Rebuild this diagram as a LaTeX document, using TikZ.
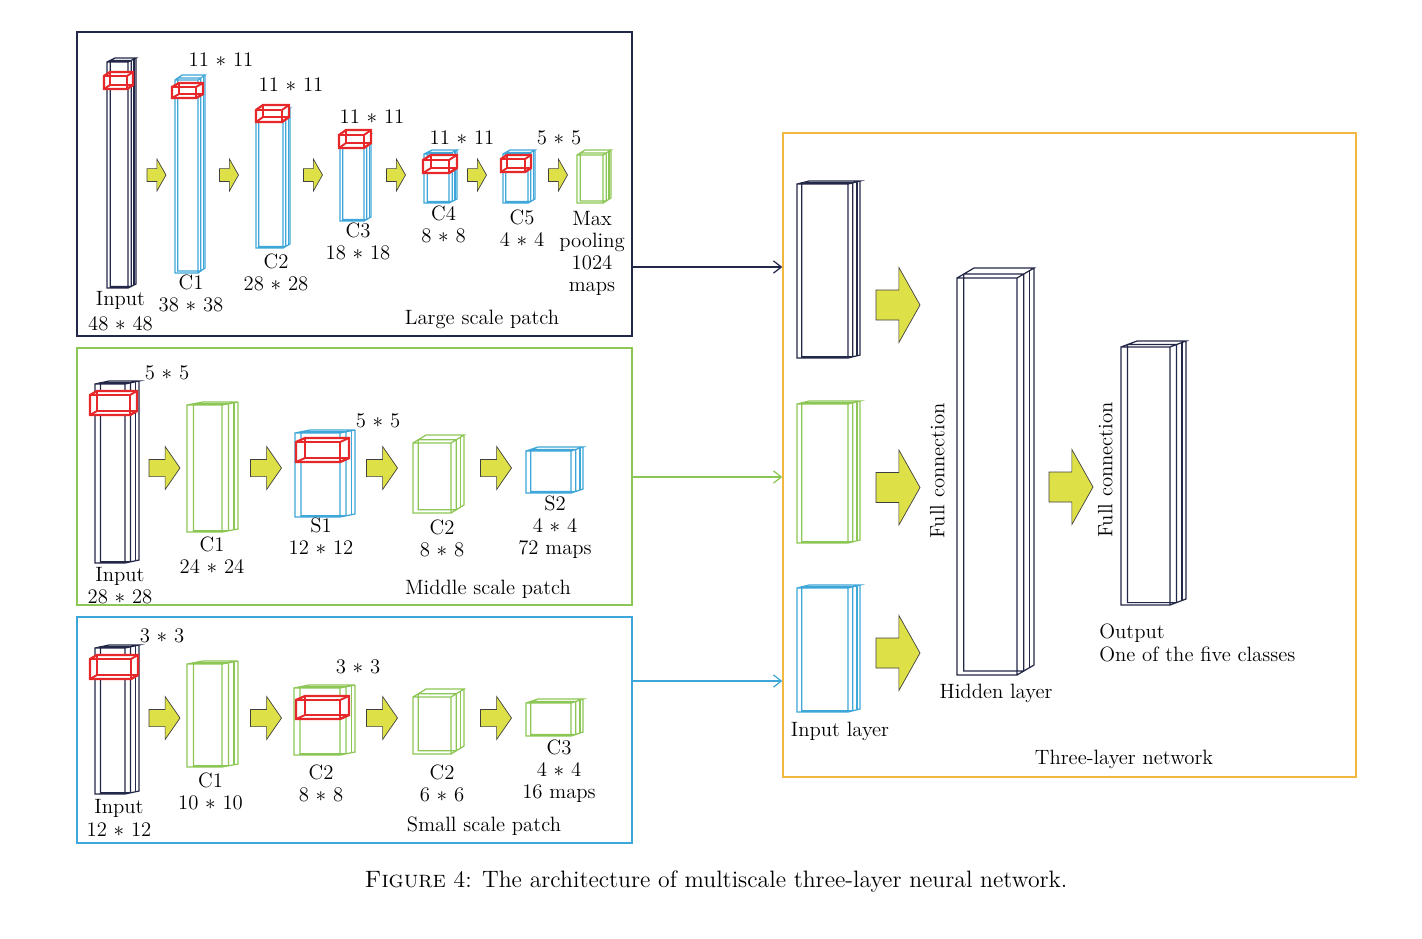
\documentclass[tikz,border=0pt]{standalone}
\usetikzlibrary{arrows.meta}
\definecolor{navy}{RGB}{36,40,72}
\definecolor{skyblue}{RGB}{62,166,216}
\definecolor{leaf}{RGB}{140,198,84}
\definecolor{kred}{RGB}{230,40,42}
\definecolor{ylw}{RGB}{222,224,72}
\definecolor{amber}{RGB}{240,184,64}
\newcommand\pxu{0.02cm}
% feature map: x, y, width, height, depth x, depth y, colour
\newcommand\fmap[7]{%
  \draw[#7, line width=0.7pt] (#1,#2) rectangle ++(#3,#4)
    (#1+0.4*#5,#2-0.4*#6) rectangle ++(#3,#4)
    (#1,#2) -- ++(#5,-#6) -- ++(#3,0) -- (#1+#3,#2)
    (#1+#3+#5,#2-#6) -- ++(0,#4) -- (#1+#3,#2+#4);
  \draw[#7, line width=0.7pt] (#1+#3+0.75*#5,#2-0.75*#6) -- ++(0,#4);
}
% kernel: x, y, width, height, depth x, depth y
\newcommand\kernel[6]{%
  \filldraw[kred, fill=white, line width=1.3pt] (#1,#2) -- ++(#5,-#6) -- ++(#3,0)
    -- ++(0,#4) -- ++(-#5,#6) -- ++(-#3,0) -- cycle;
  \draw[kred, line width=1.1pt] (#1,#2) rectangle ++(#3,#4)
    (#1+#5,#2-#6) rectangle ++(#3,#4)
    (#1+#3,#2) -- ++(#5,-#6)
    (#1,#2+#4) -- ++(#5,-#6)
    (#1+#3,#2+#4) -- ++(#5,-#6);
}
% block arrow: centre x, centre y, length, height
\newcommand\blockarrow[4]{%
  \filldraw[fill=ylw, draw=black!75, line width=0.4pt]
    (#1-#3/2,#2-0.2*#4) -- (#1+0.02*#3,#2-0.2*#4) -- (#1+0.02*#3,#2-#4/2)
    -- (#1+#3/2,#2) -- (#1+0.02*#3,#2+#4/2) -- (#1+0.02*#3,#2+0.2*#4)
    -- (#1-#3/2,#2+0.2*#4) -- cycle;
}
\tikzset{
  lbl/.style={text height=6.5pt, text depth=1.5pt},
  stack/.style={align=center, font={\fontsize{11.8}{#1}\selectfont}},
  stack/.default=12.5pt,
  frame/.style={draw, line width=0.8pt, minimum width=555*\pxu},
  link/.style={line width=0.7pt, -{Straight Barb[length=4.5pt,width=7pt]}}
}
\begin{document}
\begin{tikzpicture}[x=\pxu, y=-\pxu, every node/.style={font=\fontsize{11.8}{12}\selectfont, inner sep=0pt}]
  \useasboundingbox (0,0) rectangle (1422,938);
  % panels
  \node [frame, draw=navy, minimum height=304*\pxu] (large) at (354.5,184) {};
  \node [frame, draw=leaf, minimum height=257*\pxu] (middle) at (354.5,476.5) {};
  \node [frame, draw=skyblue, minimum height=226*\pxu] (small) at (354.5,730) {};
  \node [frame, draw=amber, minimum width=573*\pxu, minimum height=644*\pxu] (net) at (1069.5,455) {};

  % large scale patch
  \fmap{107}{62}{21}{226}{8}{4}{navy}
  \kernel{104}{76}{23}{13}{6}{4}
  \fmap{175}{80}{23}{193}{7}{5}{skyblue}
  \kernel{172}{87}{24}{11}{7}{4}
  \fmap{256}{112}{27}{136}{7}{4}{skyblue}
  \kernel{256}{110}{26}{12}{7}{5}
  \fmap{340}{138}{24}{83}{7}{4}{skyblue}
  \kernel{339}{135}{25}{13}{7}{5}
  \fmap{424}{154}{25}{49}{8}{4}{skyblue}
  \kernel{423}{160}{26}{13}{8}{5}
  \fmap{503}{154}{25}{49}{7}{4}{skyblue}
  \kernel{501}{159}{24}{13}{6}{4}
  \fmap{577}{155}{26}{48}{8}{5}{leaf}
  \foreach \ax in {156.5,229,313,396,477,558}
    {\blockarrow{\ax}{175}{19}{32}}

  \node [stack=14.2pt] (in1) at (120.5,311.5) {Input\\48 $\ast$ 48};
  \node [lbl] (k11) at (221,62) {11 $\ast$ 11};
  \node [stack] (c11) at (191,293.5) {C1\\38 $\ast$ 38};
  \node [lbl] (k12) at (291,87) {11 $\ast$ 11};
  \node [stack] (c12) at (276,272) {C2\\28 $\ast$ 28};
  \node [lbl] (k13) at (372,119) {11 $\ast$ 11};
  \node [stack] (c13) at (358,241) {C3\\18 $\ast$ 18};
  \node [lbl] (k14) at (462,140) {11 $\ast$ 11};
  \node [stack] (c14) at (443.5,224) {C4\\8 $\ast$ 8};
  \node [lbl] (k15) at (559,140) {5 $\ast$ 5};
  \node [stack] (c15) at (522,228.5) {C5\\4 $\ast$ 4};
  \node [stack] (mp) at (592,253) {Max\\pooling\\1024\\maps};
  \node [lbl] (t1) at (482,320) {Large scale patch};

  % middle scale patch
  \fmap{95}{384}{30}{179}{14}{3}{navy}
  \kernel{90}{395}{40}{20}{7}{4}
  \fmap{187}{405}{35}{127}{16}{3}{leaf}
  \fmap{295}{433}{45}{84}{15}{3}{skyblue}
  \kernel{296}{442}{44}{20}{9}{4}
  \fmap{413}{443}{38}{70}{13}{8}{leaf}
  \fmap{526}{451}{45}{42}{12}{4}{skyblue}
  \foreach \ax in {164.5,266,382,496}
    {\blockarrow{\ax}{468}{31}{43}}

  \node [lbl] (k21) at (167,375) {5 $\ast$ 5};
  \node [stack] (in2) at (120,586) {Input\\28 $\ast$ 28};
  \node [stack] (c21) at (212,555) {C1\\24 $\ast$ 24};
  \node [lbl] (k22) at (378,423) {5 $\ast$ 5};
  \node [stack] (s21) at (321,536.5) {S1\\12 $\ast$ 12};
  \node [stack] (c22) at (442,538.5) {C2\\8 $\ast$ 8};
  \node [stack] (s22) at (555,527) {S2\\4 $\ast$ 4\\72 maps};
  \node [lbl] (t2) at (488,590) {Middle scale patch};

  % small scale patch
  \fmap{95}{648}{30}{146}{14}{3}{navy}
  \kernel{90}{659}{41}{20}{7}{4}
  \fmap{187}{664}{35}{103}{16}{3}{leaf}
  \fmap{294}{688}{46}{67}{15}{3}{leaf}
  \kernel{296}{700}{44}{19}{9}{4}
  \fmap{413}{697}{38}{57}{13}{8}{leaf}
  \fmap{526}{703}{45}{33}{12}{4}{leaf}
  \foreach \ax in {164.5,266,382,496}
    {\blockarrow{\ax}{718}{31}{43}}

  \node [lbl] (k31) at (162,638) {3 $\ast$ 3};
  \node [stack=13pt] (in3) at (119,817.5) {Input\\12 $\ast$ 12};
  \node [stack] (c31) at (210.5,791) {C1\\10 $\ast$ 10};
  \node [lbl] (k32) at (358,669) {3 $\ast$ 3};
  \node [stack] (c32) at (321,783.5) {C2\\8 $\ast$ 8};
  \node [stack] (c33) at (442,783) {C2\\6 $\ast$ 6};
  \node [stack] (c34) at (559,771) {C3\\4 $\ast$ 4\\16 maps};
  \node [lbl] (t3) at (484,827) {Small scale patch};

  % three-layer network
  \fmap{797}{184}{51}{174}{12}{3}{navy}
  \fmap{797}{404}{51}{139}{12}{3}{leaf}
  \fmap{797}{588}{51}{124}{12}{3}{skyblue}
  \fmap{957}{278}{60}{397}{17}{10}{navy}
  \fmap{1121}{347}{49}{258}{16}{6}{navy}
  \blockarrow{898}{305}{44}{75}
  \blockarrow{898}{487.5}{44}{75}
  \blockarrow{898}{653}{44}{75}
  \blockarrow{1071}{487}{44}{75}

  \node [lbl, rotate=90] (fc1) at (940,471) {Full connection};
  \node [lbl, rotate=90] (fc2) at (1108,470) {Full connection};
  \node [lbl] (il) at (840,732) {Input layer};
  \node [lbl] (hl) at (996,694) {Hidden layer};
  \node [stack=13pt, align=left, anchor=west] (ol) at (1099,642.5) {Output\\One of the five classes};
  \node [lbl] (t4) at (1124,760) {Three-layer network};

  % links
  \coordinate (y1) at (0,267);
  \coordinate (y2) at (0,477);
  \coordinate (y3) at (0,681);
  \draw [link, navy] (large.east |- y1) -- (net.west |- y1);
  \draw [link, leaf] (middle.east |- y2) -- (net.west |- y2);
  \draw [link, skyblue] (small.east |- y3) -- (net.west |- y3);

  \node [font=\fontsize{13.5}{14}\selectfont] (cap) at (716,882)
    {\textsc{Figure} 4: The architecture of multiscale three-layer neural network.};
\end{tikzpicture}
\end{document}
